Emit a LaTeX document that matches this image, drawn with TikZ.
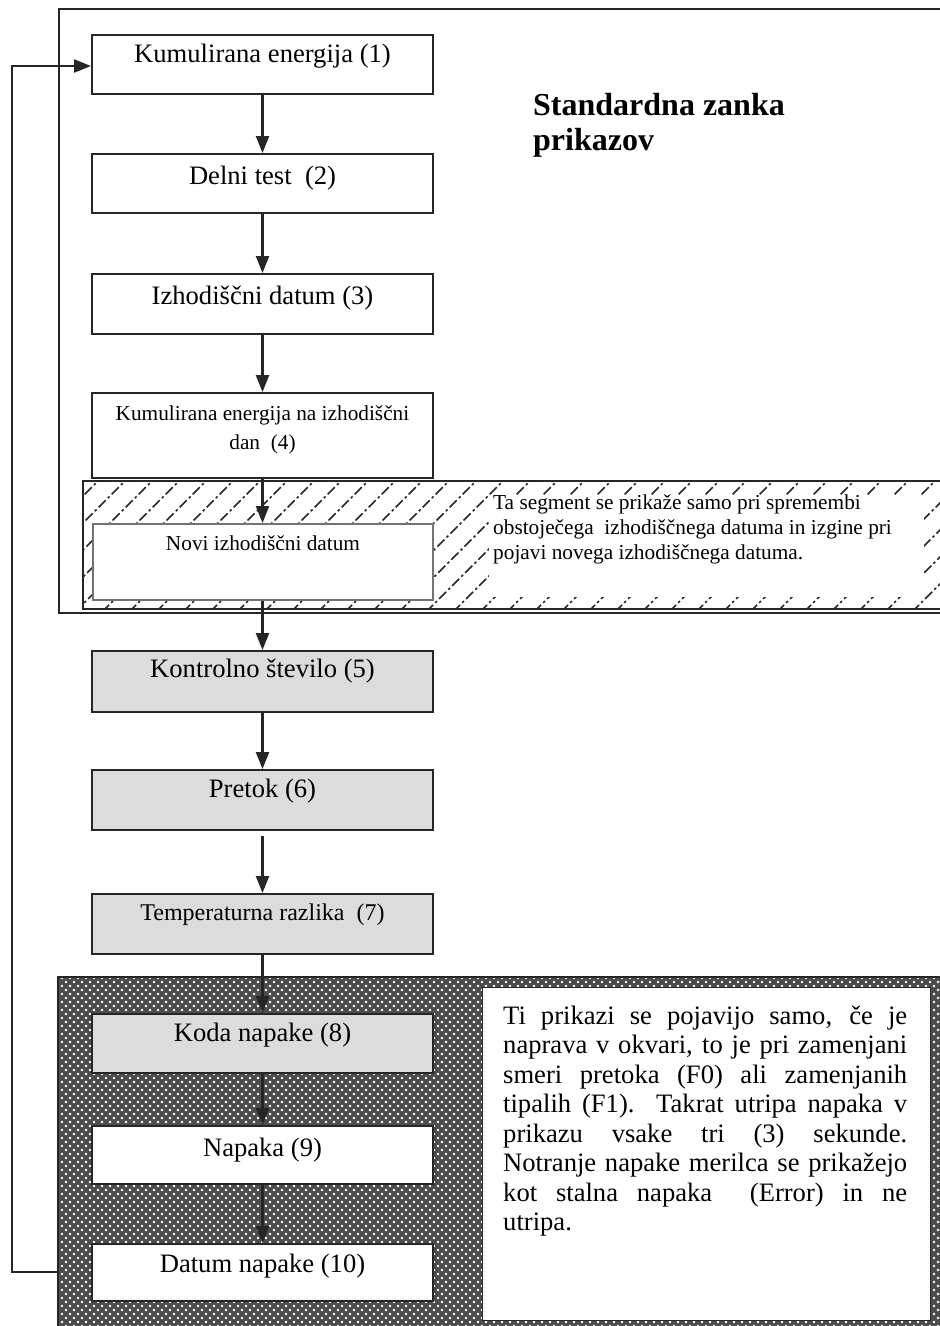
\documentclass[tikz,border=0pt]{standalone}
\usepackage{fontspec}
\setmainfont{Liberation Serif}
\usetikzlibrary{arrows.meta}
\definecolor{boxgray}{HTML}{DCDCDC}
\definecolor{ink}{HTML}{262626}
\newcommand\fsbig{\fontsize{26.6pt}{30pt}\selectfont}
\newcommand\fsmid{\fontsize{24pt}{28pt}\selectfont}
\newcommand\fssmall{\fontsize{21.3pt}{25pt}\selectfont}
\newcommand\fstitle{\fontsize{32pt}{35pt}\selectfont\bfseries}
\pgfdeclarelayer{bglayer}
\pgfdeclarelayer{patlayer}
\pgfsetlayers{bglayer,patlayer,main}
\begin{document}
\begin{tikzpicture}[x=1pt,y=-1pt,
  stepbox/.style={draw=ink, line width=2pt, minimum width=341pt, inner xsep=0pt, inner ysep=0pt,
    text height=28pt, text depth=31pt, anchor=north, font=\fsbig, fill=white},
  graybox/.style={stepbox, fill=boxgray},
  flow/.style={draw=ink, line width=2.3pt, -{Triangle[length=17pt,width=13pt]}},
  frameline/.style={draw=ink, line width=2pt},
  hatchline/.style={draw=black!85, line width=1.6pt, dash pattern=on 10pt off 3pt on 2.5pt off 3pt},
  xline/.style={draw=black!70, line width=3.3pt}]
\useasboundingbox (0,0) rectangle (940,1326);

% ---------- boxes ----------
\node[stepbox, text height=27pt, text depth=32pt] (b1) at (262.5,34) {Kumulirana energija (1)};
\node[stepbox, text height=30pt, text depth=29pt] (b2) at (262.5,153) {Delni test\ \ (2)};
\node[stepbox, text height=30pt, text depth=30pt] (b3) at (262.5,273) {Izhodiščni datum (3)};
\node[stepbox, font=\fssmall, text height=27pt, text depth=58pt] (b4) at (262.5,392)
  {\vtop{\baselineskip=29pt\lineskiplimit=0pt
     \hbox to 341pt{\hfil Kumulirana energija na izhodiščni\hfil}
     \hbox to 341pt{\hfil dan\ \ (4)\hfil}}};
\node[stepbox, draw=black!55, font=\fssmall, minimum width=340pt, text height=26pt, text depth=50pt] (nv) at (263,523) {Novi izhodiščni datum};
\node[graybox, text height=26pt, text depth=35pt] (b5) at (262.5,650) {Kontrolno število (5)};
\node[graybox, text height=27pt, text depth=33pt] (b6) at (262.5,769) {Pretok (6)};
\node[graybox, font=\fsmid, text height=26pt, text depth=34pt] (b7) at (262.5,893) {Temperaturna razlika\ \ (7)};
\node[graybox, text height=27pt, text depth=32pt] (b8) at (262.5,1013) {Koda napake (8)};
\node[stepbox, text height=30pt, text depth=28pt] (b9) at (262.5,1125) {Napaka (9)};
\node[stepbox, text height=28pt, text depth=29pt] (b10) at (262.5,1243) {Datum napake (10)};

% ---------- title ----------
\node[anchor=base west, inner sep=0pt, font=\fstitle] (title) at (533,115)
  {\vtop{\baselineskip=35pt\lineskiplimit=0pt\hbox{Standardna zanka}\hbox{prikazov}}};

% ---------- segment note ----------
\node[anchor=base west, inner sep=0pt, font=\fssmall] (seg) at (493,509)
  {\vtop{\baselineskip=25pt\lineskiplimit=0pt
     \hbox{Ta segment se prikaže samo pri spremembi}
     \hbox{obstoječega\ \ izhodiščnega datuma in izgine pri}
     \hbox{pojavi novega izhodiščnega datuma.}}};

% ---------- error note ----------
\node[draw=ink, line width=1.3pt, fill=white, anchor=north west, minimum width=448pt, minimum height=333pt, inner sep=0pt] (notebox) at (482,987) {};
\node[anchor=base west, inner sep=0pt] (note) at (503,1024)
  {\parbox[t]{404pt}{\fsbig\baselineskip=29.5pt\parindent=0pt\tolerance=10000\hyphenpenalty=10000
   Ti prikazi se pojavijo samo, če je\linebreak
   naprava v okvari, to je pri zamenjani\linebreak
   smeri pretoka (F0) ali zamenjanih\linebreak
   tipalih (F1). Takrat utripa napaka v\linebreak
   prikazu vsake tri (3) sekunde.\linebreak
   Notranje napake merilca se prikažejo\linebreak
   kot stalna napaka\ \ (Error) in ne\linebreak
   utripa.}};

% ---------- patterns ----------
\begin{pgfonlayer}{patlayer}
  % hatched segment region
  \begin{scope}
    \clip (83,481) rectangle (940,609);
    \foreach \k in {0,...,42} {
      \draw[hatchline] ({-60+\k*27},612) -- ++(140,-140);
    }
    \fill[white] (489,496) rectangle (924,597);
  \end{scope}
  \draw[frameline] (940,481) -- (83,481) -- (83,609) -- (940,609);
  % cross-hatched error region
  \begin{scope}
    \clip (58,977) rectangle (940,1326);
    \fill[white] (58,977) rectangle (940,1326);
    \foreach \k in {0,...,160} {
      \draw[xline] ({58-360+\k*8},1330) -- ++(360,-360);
      \draw[xline] ({58+\k*8},1330) -- ++(-360,-360);
    }
  \end{scope}
  \draw[draw=ink, line width=1.5pt] (940,977) -- (58,977) -- (58,1326);
\end{pgfonlayer}

% ---------- frame and loop ----------
\begin{pgfonlayer}{bglayer}
  \draw[frameline] (940,9) -- (59,9) -- (59,613) -- (940,613);
\end{pgfonlayer}
\coordinate (lb) at (12,1272);
\coordinate (lt) at (12,66);
\begin{pgfonlayer}{bglayer}
  \draw[flow] (b10.west |- lb) -- (lb) -- (lt) -- (b1.west |- lt);
\end{pgfonlayer}

% ---------- flow arrows ----------
\draw[flow] (b1) -- (b2);
\draw[flow] (b2) -- (b3);
\draw[flow] (b3) -- (b4);
\draw[flow] (b4.south) -- (nv.north -| b4.south);
\draw[flow] (nv.south -| b4.south) -- (b5.north);
\draw[flow] (b5) -- (b6);
\draw[flow, shorten <=5pt] (b6) -- (b7);
\draw[flow] (b7) -- (b8);
\draw[flow] (b8) -- (b9);
\draw[flow] (b9) -- (b10);
\end{tikzpicture}
\end{document}
